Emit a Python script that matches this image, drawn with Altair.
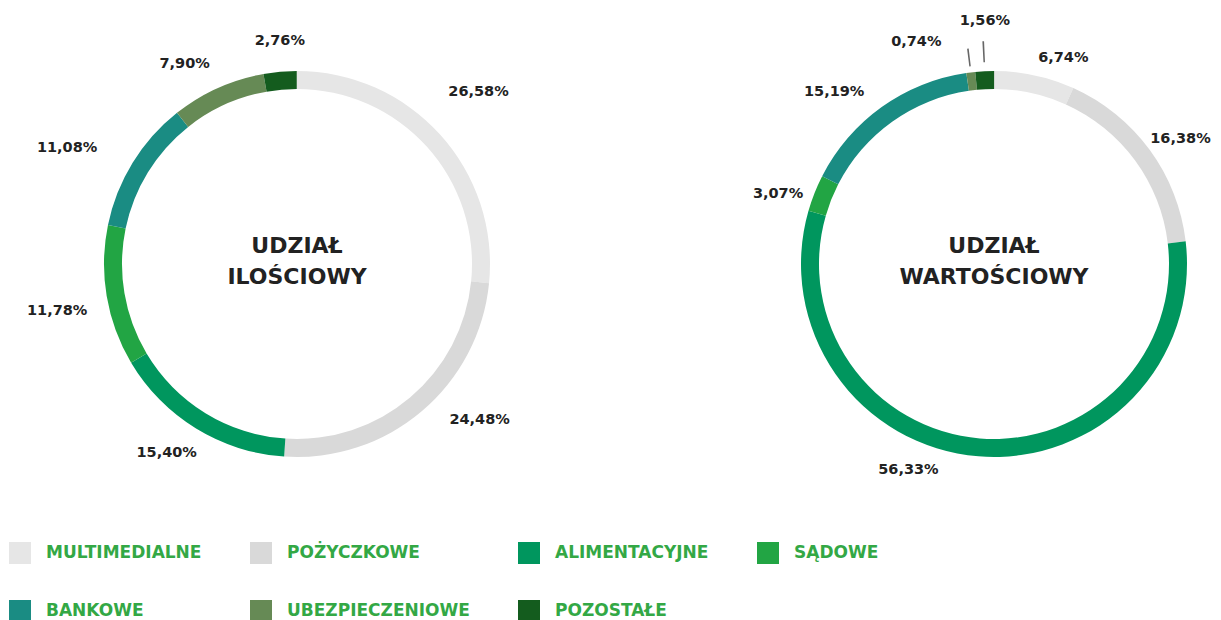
import math
import altair as alt
import pandas as pd

CATEGORIES = ["MULTIMEDIALNE", "POŻYCZKOWE", "ALIMENTACYJNE", "SĄDOWE",
              "BANKOWE", "UBEZPIECZENIOWE", "POZOSTAŁE"]
COLORS = ["#e6e6e6", "#d9d9d9", "#00965e", "#22a544",
          "#1a8c83", "#668a55", "#145c1e"]
ILOSCIOWY = [26.58, 24.48, 15.40, 11.78, 11.08, 7.90, 2.76]
WARTOSCIOWY = [6.74, 16.38, 56.33, 3.07, 15.19, 0.74, 1.56]
DONUTS = ["ilosc", "wart"]
TITLES = ["UDZIAŁ\nILOŚCIOWY", "UDZIAŁ\nWARTOŚCIOWY"]

rows = []
for d, vals in zip(DONUTS, (ILOSCIOWY, WARTOSCIOWY)):
    for i, (c, v) in enumerate(zip(CATEGORIES, vals)):
        rows.append({"donut": d, "cat": c, "order": i, "value": v,
                     "label": f"{v:.2f}".replace(".", ",") + "%"})
df = pd.DataFrame(rows)

# layout / styling
CENTER = {"ilosc": (289, 256), "wart": (986, 256)}
LABEL_R = 230
NUDGE = {
    "ilosc": {"MULTIMEDIALNE": (11, -18), "POŻYCZKOWE": (34, -20), "ALIMENTACYJNE": (-10, -7),
              "SĄDOWE": (-13, 9), "BANKOWE": (-34, 5), "UBEZPIECZENIOWE": (-18, 10),
              "POZOSTAŁE": (3, 6)},
    "wart": {"MULTIMEDIALNE": (21, 19), "POŻYCZKOWE": (1, 11), "ALIMENTACYJNE": (-67, -23),
             "SĄDOWE": (-2, 14), "BANKOWE": (-26, 15), "UBEZPIECZENIOWE": (-50, 6),
             "POZOSTAŁE": (2, -13)},
}
LEADERS = {"wart": {"UBEZPIECZENIOWE": (199, 217), "POZOSTAŁE": (202, 223)}}

theta_scale = alt.Scale(domain=[0, 100], range=[0, 2 * math.pi])
color_scale = alt.Scale(domain=CATEGORIES, range=COLORS)


def base(d):
    return (alt.Chart(df)
            .transform_filter(alt.datum.donut == d)
            .transform_window(cum="sum(value)", sort=[alt.SortField("order")], frame=[None, 0])
            .transform_calculate(start="datum.cum - datum.value",
                                 mid="datum.cum - datum.value / 2"))


layers = []
for k, d in enumerate(DONUTS):
    cx, cy = CENTER[d]
    if k == 0:
        legend = alt.Legend(orient="none", legendX=1, legendY=534, columns=4,
                            direction="horizontal",
                            columnPadding=48, rowPadding=36, symbolType="square",
                            symbolSize=484, symbolStrokeWidth=0, labelOffset=15,
                            labelFont="DejaVu Sans", labelFontSize=17, labelFontWeight="bold",
                            labelColor="#33a845", title=None, padding=0, labelLimit=400)
    else:
        legend = None
    arc = base(d).mark_arc(outerRadius=193, innerRadius=175).encode(
        theta=alt.Theta("start:Q", scale=theta_scale),
        theta2="cum:Q",
        color=alt.Color("cat:N", sort=CATEGORIES, scale=color_scale, legend=legend),
        x=alt.value(cx), y=alt.value(cy),
    )
    layers.append(arc)

    for cat, (ri, ro) in LEADERS.get(d, {}).items():
        leader = (base(d).transform_filter(alt.datum.cat == cat)
                  .transform_calculate(a="datum.mid - 0.06", b="datum.mid + 0.06")
                  .mark_arc(innerRadius=ri, outerRadius=ro, color="#666666")
                  .encode(theta=alt.Theta("a:Q", scale=theta_scale), theta2="b:Q",
                          x=alt.value(cx), y=alt.value(cy)))
        layers.append(leader)

    for cat in CATEGORIES:
        ddx, ddy = NUDGE[d][cat]
        txt = (base(d).transform_filter(alt.datum.cat == cat)
               .mark_text(radius=LABEL_R, dx=ddx, dy=ddy, font="DejaVu Sans", fontSize=14.5,
                          fontWeight="bold", color="#222222", align="center", baseline="middle")
               .encode(theta=alt.Theta("mid:Q", scale=theta_scale), text="label:N",
                       x=alt.value(cx), y=alt.value(cy)))
        layers.append(txt)

    title = (alt.Chart(pd.DataFrame({"t": [TITLES[k]]}))
             .mark_text(font="DejaVu Sans", fontSize=22, fontWeight="bold", color="#222222",
                        lineBreak="\n", lineHeight=31, align="center", baseline="middle")
             .encode(text="t:N", x=alt.value(cx), y=alt.value(cy - 18)))
    layers.append(title)

chart = (alt.layer(*layers)
         .properties(width=1205, height=612, padding=0,
                     autosize=alt.AutoSizeParams(type="none"))
         .configure_view(stroke=None))

chart.save("out.html", embed_options={"renderer": "svg", "actions": False})
